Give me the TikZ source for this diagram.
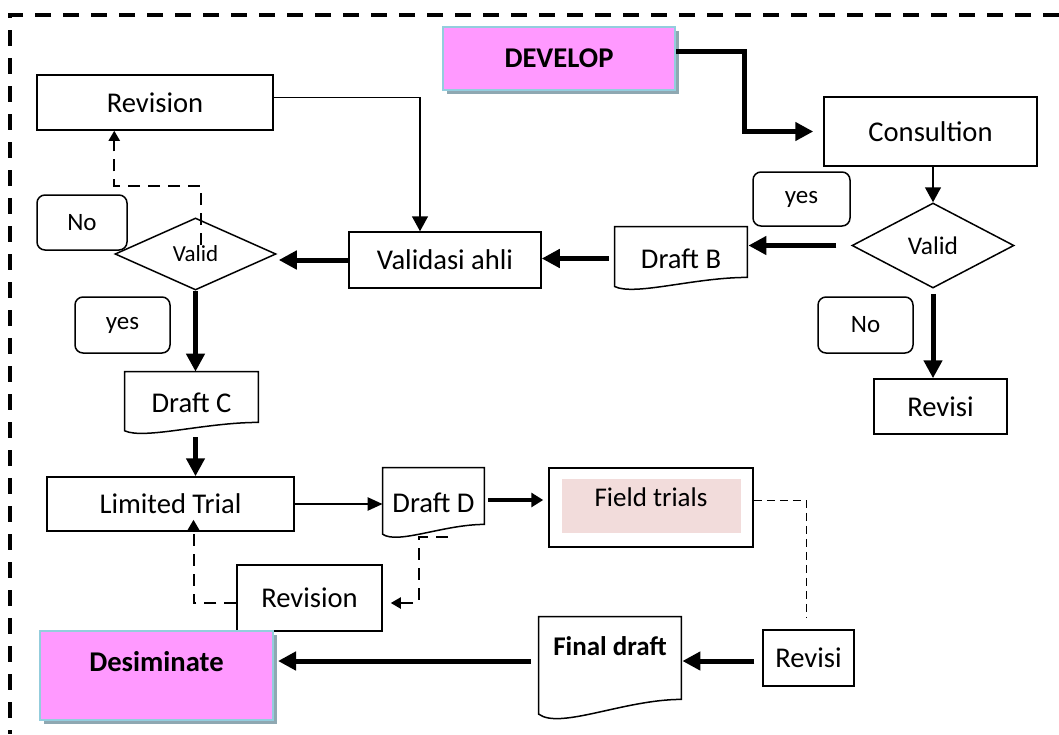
\documentclass[tikz,border=0pt]{standalone}
\usepackage{fontspec}
\setmainfont{Carlito}
\usetikzlibrary{calc}
\usetikzlibrary{shapes.geometric}
\usetikzlibrary{arrows.meta}
\usetikzlibrary{shadows}
\definecolor{startpink}{HTML}{FF99FF}
\definecolor{startedge}{HTML}{93CDDD}
\definecolor{startshadow}{HTML}{8FA8B2}
\definecolor{fieldfill}{HTML}{F2DCDB}

\begin{document}
\begin{tikzpicture}[unit length/.code={{\newdimen\tikzunit}\setlength{\tikzunit}{#1}},unit length=0.5pt,x=\tikzunit,y=-\tikzunit,box/.style={rectangle,draw,line width=0.75pt,inner sep=0,font=\fontsize{14.3}{17}\selectfont},start box/.style={box,draw=startedge,line width=1pt,fill=startpink,font=\fontsize{14.3}{17}\selectfont\bfseries,drop shadow={shadow xshift=2pt,shadow yshift=-2pt,fill=startshadow,opacity=1}},doc box/.style={rectangle,inner sep=0,font=\fontsize{14.3}{17}\selectfont},decision/.style={diamond,draw,line width=0.75pt,inner sep=0},tag/.style={rectangle,draw,rounded corners=4pt,line width=0.75pt,inner sep=0,font=\fontsize{12.5}{15}\selectfont},frame/.style={draw,line width=2pt,dash pattern=on 8pt off 6pt},thin arrow/.style={draw,line width=0.75pt,-{Triangle[length=7.5pt,width=8pt]}},mid arrow/.style={draw,line width=1.25pt,-{Triangle[length=7.5pt,width=6.5pt]}},field arrow/.style={draw,line width=1.7pt,-{Triangle[length=6pt,width=7pt]}},bold arrow/.style={draw,line width=2.5pt,-{Triangle[length=9pt,width=9pt]}},back arrow/.style={draw,line width=1pt,dash pattern=on 6pt off 4pt,-{Triangle[length=5pt,width=5.5pt]}},side line/.style={draw,line width=0.6pt,dash pattern=on 4pt off 2.5pt}]
  \useasboundingbox (0,0) rectangle (1059,734);
  \path[frame] (1059,15) -- (10,15) -- (10,734);
  \node[start box,minimum width=232\tikzunit,minimum height=63\tikzunit] (develop) at (559,58.5) {DEVELOP};
  \node[box,minimum width=213\tikzunit,minimum height=69\tikzunit] (consult) at (930.5,131.5) {Consultion};
  \node[decision,minimum width=162\tikzunit,minimum height=85\tikzunit,font=\fontsize{12.7}{15}\selectfont] (validR) at (933,245.5) {Valid};
  \node[tag,minimum width=97\tikzunit,minimum height=54\tikzunit] (yesR) at (801.5,199) {yes};
  \node[tag,minimum width=95\tikzunit,minimum height=56\tikzunit] (noR) at (865.5,325) {No};
  \node[box,minimum width=133\tikzunit,minimum height=55\tikzunit] (revisiR) at (940.5,406.5) {Revisi};
  \node[doc box,minimum width=132\tikzunit,minimum height=63\tikzunit] (draftB) at (681,258.5) {Draft B};
  \node[box,minimum width=192\tikzunit,minimum height=56\tikzunit] (validasi) at (445,260) {Validasi ahli};
  \node[box,minimum width=236\tikzunit,minimum height=55\tikzunit] (revisionT) at (155,102.5) {Revision};
  \node[tag,minimum width=90\tikzunit,minimum height=55\tikzunit] (noL) at (82,222.5) {No};
  \node[decision,minimum width=161\tikzunit,minimum height=72\tikzunit,font=\fontsize{11.5}{14}\selectfont] (validL) at (195.5,254) {Valid};
  \node[tag,minimum width=95\tikzunit,minimum height=56\tikzunit] (yesL) at (122.5,325) {yes};
  \node[doc box,minimum width=133\tikzunit,minimum height=62\tikzunit] (draftC) at (191.5,403) {Draft C};
  \node[box,minimum width=247\tikzunit,minimum height=54\tikzunit] (limited) at (170.5,504) {Limited Trial};
  \node[doc box,minimum width=101\tikzunit,minimum height=70\tikzunit] (draftD) at (433.5,503) {Draft D};
  \node[box,minimum width=204\tikzunit,text height=38\tikzunit,text depth=41\tikzunit,font=\fontsize{13.5}{16}\selectfont,path picture={\fill[fieldfill] ($(path picture bounding box.north west)+(13,11)$) rectangle ($(path picture bounding box.south east)+(-12,-14)$);}] (field) at (651,507.5) {Field trials};
  \node[box,minimum width=145\tikzunit,minimum height=66\tikzunit] (revisionB) at (309.5,598) {Revision};
  \node[start box,minimum width=233\tikzunit,text height=40\tikzunit,text depth=49\tikzunit] (desiminate) at (156.5,675.5) {Desiminate};
  \node[doc box,minimum width=142\tikzunit,text height=38\tikzunit,text depth=65\tikzunit,font=\fontsize{13.5}{16}\selectfont\bfseries] (final) at (610,668.5) {Final draft};
  \node[box,minimum width=91\tikzunit,minimum height=56\tikzunit] (revisiB) at (808.5,658) {Revisi};
  % wavy bottoms of the draft sheets
  \foreach \d/\r in {draftB/13,draftC/12,draftD/14,final/21}
    \draw[line width=0.75pt] ($(\d.south west)+(0,-0.3*\r)$) -- (\d.north west) -- (\d.north east) -- ($(\d.south east)+(0,-\r)$) .. controls ($(\d.south west)!0.6!(\d.south east)+(0,-\r)$) and ($(\d.south west)!0.15!(\d.south east)+(0,0.45*\r)$) .. ($(\d.south west)+(0,-0.3*\r)$) -- cycle;
  \path[bold arrow] ($(develop.east)+(0,-7)$) -- ++(68,0) |- ($(consult.west)+(-10,0)$);
  \path[thin arrow] (consult.south -| validR.north) -- (validR.north);
  \path[bold arrow] ($(validR.west)+(-15,0)$) -- ($(validR.west -| draftB.east)+(1,0)$);
  \path[bold arrow] ($(validR.south)+(0,5)$) -- (validR.south |- revisiR.north);
  \path[bold arrow] ($(draftB.west)+(-6,0)$) -- (draftB.west -| validasi.east);
  \path[bold arrow] (validasi.west) -- ($(validasi.west -| validL.east)+(2,0)$);
  \path[thin arrow] ($(revisionT.east)+(0,-5)$) -| ($(validasi.north)+(-25,0)$);
  \path[back arrow] ($(validL.center)+(5,-9)$) -- ++(0,-59) -| ($(revisionT.south west)+(78,0)$);
  \path[bold arrow] (validL.south) -- (validL.south |- draftC.north);
  \path[bold arrow] ($(validL.south |- draftC.south)+(0,3)$) -- (validL.south |- limited.north);
  \path[mid arrow] (limited.east) -- (limited.east -| draftD.west);
  \path[field arrow] ($(draftD.east)+(4,-3)$) -- ($(draftD.east -| field.west)+(-5,-3)$);
  \path[side line] ($(field.east)+(0,-7)$) -| ($(revisiB.north)+(-2,-12)$);
  \path[bold arrow] ($(revisiB.west)+(-8,3)$) -- ($(revisiB.west -| final.east)+(1,3)$);
  \path[bold arrow] ($(revisiB.west -| final.west)+(-8,3)$) -- ($(revisiB.west -| desiminate.east)+(4,3)$);
  \path[back arrow] ($(draftD.south west)+(65,-1)$) -- ($(draftD.south west)+(36,-1)$) |- ($(revisionB.east)+(8,5)$);
  \path[back arrow] ($(revisionB.west)+(0,5)$) -| ($(limited.south)+(23,-12)$);
\end{tikzpicture}
\end{document}
